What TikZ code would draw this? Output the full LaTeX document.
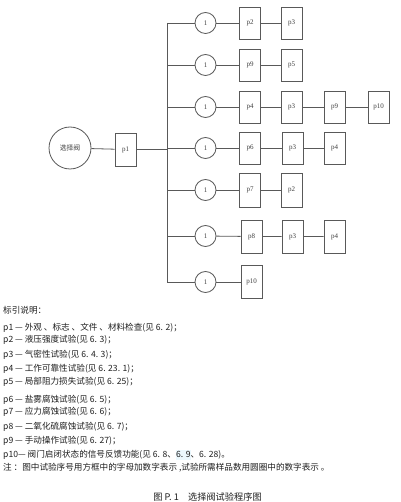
\documentclass[tikz,border=0pt]{standalone}
\usepackage{fontspec}
\setmainfont{Liberation Serif}
\newfontfamily\cjk{Noto Sans CJK SC}
\begin{document}
\begin{tikzpicture}[x=1pt,y=-1pt,
  ln/.style={draw=black!65,line width=0.8pt},
  pbox/.style={ln,minimum width=21pt,minimum height=32pt,inner sep=0pt,font=\fontsize{7}{8}\selectfont,text=black!75},
  cnt/.style={ln,circle,minimum size=21pt,inner sep=0pt,font=\fontsize{7}{8}\selectfont,text=black!75},
  legend/.style={anchor=west,inner sep=0pt,font=\cjk\fontsize{8.6}{9}\selectfont,text=black!88}]
\useasboundingbox (0,0) rectangle (400,502);
\fill[white] (0,0) rectangle (400,502);
% left part
\node[ln,circle,minimum size=42pt,inner sep=0pt,font=\cjk\fontsize{6.8}{7}\selectfont,text=black!75] (sv) at (70,148) {选择阀};
\node[pbox,minimum height=33pt] (p1) at (125.5,149.5) {p1};
\coordinate (tt) at (167,23);
\coordinate (tb) at (167,282);
\coordinate (tm) at (167,149.5);
\draw[ln] (sv) -- (p1);
\draw[ln] (p1) -- (tm);
\draw[ln] (tt) -- (tb);
% rows
\foreach \r/\y in {1/23,2/65,3/107,4/148,5/190,6/236,7/282}{
  \node[cnt] (c\r) at (205.5,\y) {1};
  \coordinate (b\r) at (167,\y);
  \draw[ln] (b\r) -- (c\r);
}
% row1
\node[pbox] (r1a) at (250,23) {p2};
\node[pbox] (r1b) at (291.5,23) {p3};
\draw[ln] (c1) -- (r1a) -- (r1b);
% row2
\node[pbox] (r2a) at (250,65) {p9};
\node[pbox] (r2b) at (291.5,65) {p5};
\draw[ln] (c2) -- (r2a) -- (r2b);
% row3
\node[pbox] (r3a) at (250,107) {p4};
\node[pbox] (r3b) at (291.5,107) {p3};
\node[pbox] (r3c) at (334.5,107) {p9};
\node[pbox] (r3d) at (378.5,107) {p10};
\draw[ln] (c3) -- (r3a) -- (r3b) -- (r3c) -- (r3d);
% row4
\node[pbox] (r4a) at (250,148) {p6};
\node[pbox] (r4b) at (292.5,148) {p3};
\node[pbox] (r4c) at (334.5,148) {p4};
\draw[ln] (c4) -- (r4a) -- (r4b) -- (r4c);
% row5
\node[pbox,minimum height=34pt] (r5a) at (250,190) {p7};
\node[pbox,minimum height=34pt] (r5b) at (291.5,190) {p2};
\draw[ln] (c5) -- (r5a) -- (r5b);
% row6
\node[pbox,minimum height=33pt] (r6a) at (251.5,236.5) {p8};
\node[pbox,minimum height=33pt] (r6b) at (292.5,236.5) {p3};
\node[pbox,minimum height=33pt] (r6c) at (334.5,236.5) {p4};
\draw[ln] (c6) -- (r6a) -- (r6b) -- (r6c);
% row7
\node[pbox,minimum height=33pt] (r7a) at (251.5,282) {p10};
\draw[ln] (c7) -- (r7a);
% legend
\fill[cyan!8] (176,450) rectangle (191,460);
\node[legend] (h) at (3,310) {标引说明：};
\node[legend] (l1) at (3,328) {p1 — 外观 、标志 、文件 、材料检查(见 6. 2)；};
\node[legend] (l2) at (3,340) {p2 — 液压强度试验(见 6. 3)；};
\node[legend] (l3) at (3,355) {p3 — 气密性试验(见 6. 4. 3)；};
\node[legend] (l4) at (3,369) {p4 — 工作可靠性试验(见 6. 23. 1)；};
\node[legend] (l5) at (3,382) {p5 — 局部阻力损失试验(见 6. 25)；};
\node[legend] (l6) at (3,400) {p6 — 盐雾腐蚀试验(见 6. 5)；};
\node[legend] (l7) at (3,412) {p7 — 应力腐蚀试验(见 6. 6)；};
\node[legend] (l8) at (3,427) {p8 — 二氧化硫腐蚀试验(见 6. 7)；};
\node[legend] (l9) at (3,441) {p9 — 手动操作试验(见 6. 27)；};
\node[legend] (l10) at (3,455) {p10— 阀门启闭状态的信号反馈功能(见 6. 8、6. 9、6. 28)。};
\node[legend] (nt) at (3,468) {注 ：图中试验序号用方框中的字母加数字表示 ,试验所需样品数用圆圈中的数字表示 。};
\node[inner sep=0pt,font=\cjk\fontsize{9.2}{10}\selectfont,text=black!88] (cap) at (207.5,497) {图 P. 1\quad 选择阀试验程序图};
\end{tikzpicture}
\end{document}
